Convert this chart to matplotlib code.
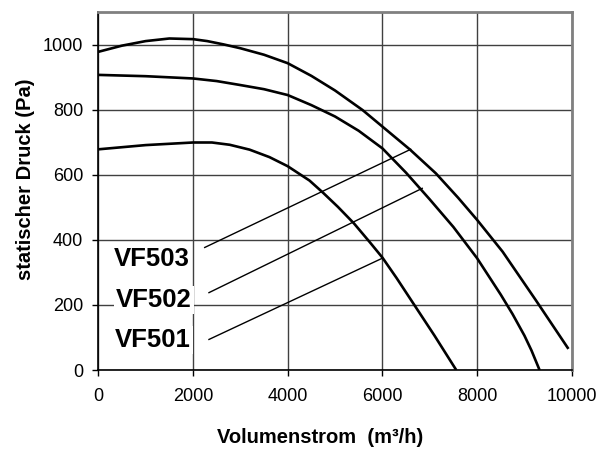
import matplotlib
matplotlib.use('Agg')
import matplotlib.pyplot as plt

plt.rcParams['font.family'] = ['Liberation Sans', 'DejaVu Sans']

# fan curves (Volumenstrom m3/h, statischer Druck Pa)
vf503_x = [0, 500, 1000, 1500, 2000, 2300, 2640, 3000, 3500, 4000, 4500,
           5000, 5580, 6000, 6585, 7130, 7600, 8000, 8540, 9240, 9930]
vf503_y = [979, 998, 1012, 1020, 1018, 1012, 1002, 990, 970, 944, 905,
           860, 800, 749, 678, 605, 530, 462, 364, 215, 65]

vf502_x = [0, 1000, 2000, 2500, 2990, 3500, 4000, 4500, 5000, 5500, 6000,
           6500, 7000, 7500, 8000, 8500, 8750, 9000, 9150, 9320]
vf502_y = [908, 904, 897, 889, 877, 864, 846, 815, 780, 736, 682,
           607, 525, 440, 344, 232, 172, 106, 60, 0]

vf501_x = [0, 1000, 2000, 2400, 2775, 3195, 3615, 4000, 4460, 4750, 5060,
           5400, 5730, 6000, 6300, 6675, 7100, 7560]
vf501_y = [679, 692, 700, 700, 693, 678, 655, 627, 583, 545, 502,
           451, 394, 346, 283, 200, 106, 0]

# label positions and leader lines (start, end)
labels = ['VF503', 'VF502', 'VF501']
label_x = [1137, 1179, 1158]
label_y = [341, 216, 92]
leader_x = [[2247, 6598], [2337, 6842], [2337, 6000]]
leader_y = [[377, 679], [238, 559], [94, 344]]

xticks = [0, 2000, 4000, 6000, 8000, 10000]
yticks = [0, 200, 400, 600, 800, 1000]

fig = plt.figure(figsize=(5.97, 4.51), dpi=100)
ax = fig.add_axes([0.1647, 0.1796, 0.7930, 0.7927])

for xs, ys in [(vf503_x, vf503_y), (vf502_x, vf502_y), (vf501_x, vf501_y)]:
    ax.plot(xs, ys, color='black', lw=1.9, solid_capstyle='butt',
            solid_joinstyle='round', zorder=4)

for xs, ys in zip(leader_x, leader_y):
    ax.plot(xs, ys, color='black', lw=1.0, zorder=3)

for name, tx, ty in zip(labels, label_x, label_y):
    ax.text(tx, ty, name, fontsize=18.5, fontweight='bold', ha='center',
            va='center', zorder=5,
            bbox=dict(facecolor='white', edgecolor='none', pad=1.5))

ax.set_xlim(0, 10000)
ax.set_ylim(0, 1100)
ax.set_xticks(xticks)
ax.set_yticks(yticks)
ax.grid(True, color='#404040', lw=1.0, zorder=1)
ax.set_axisbelow(True)

ax.tick_params(axis='both', direction='out', length=4, width=1,
               color='black', labelsize=13)
ax.tick_params(axis='y', pad=7)
ax.tick_params(axis='x', pad=9)

for side in ['left', 'bottom']:
    ax.spines[side].set_color('black')
    ax.spines[side].set_linewidth(1.2)
for side in ['top', 'right']:
    ax.spines[side].set_color('#808080')
    ax.spines[side].set_linewidth(2.0)

fig.text(0.536, 0.031, 'Volumenstrom  (m³/h)', fontsize=14.5,
         fontweight='bold', ha='center', va='center')
fig.text(0.042, 0.603, 'statischer Druck (Pa)', fontsize=14.5,
         fontweight='bold', ha='center', va='center', rotation=90)

fig.savefig('out.png', dpi=100)
